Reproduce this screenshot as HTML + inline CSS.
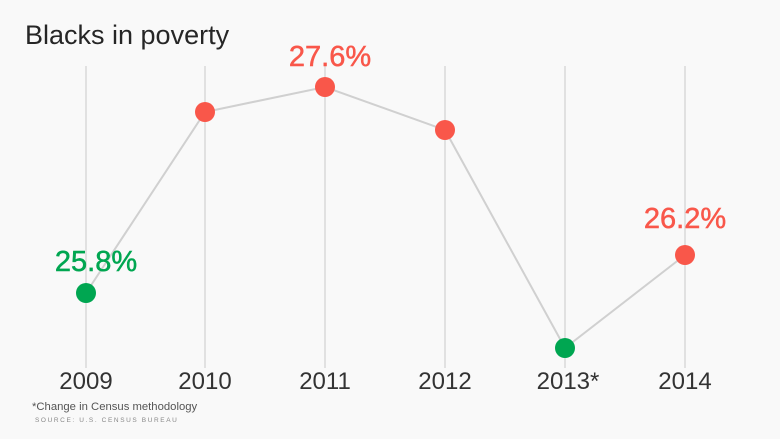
<!DOCTYPE html>
<html><head><style>
body{margin:0;background:#f9f9f9;}
svg{display:block;font-family:"Liberation Sans",sans-serif;}
</style></head><body>
<svg width="780" height="439" viewBox="0 0 780 439">
<rect width="780" height="439" fill="#f9f9f9"/>
<text x="25" y="44" font-size="27" fill="#262626">Blacks in poverty</text>
<g stroke="#d4d4d4" stroke-width="1.3">
<line x1="86" y1="66" x2="86" y2="368"/>
<line x1="205" y1="66" x2="205" y2="368"/>
<line x1="325" y1="66" x2="325" y2="368"/>
<line x1="445" y1="66" x2="445" y2="368"/>
<line x1="565" y1="66" x2="565" y2="368"/>
<line x1="685" y1="66" x2="685" y2="368"/>
</g>
<polyline points="86,293 205,112 325,87 445,130 565,348 685,255" fill="none" stroke="#d0d0d0" stroke-width="2"/>
<circle cx="86" cy="293" r="10" fill="#00a651"/>
<circle cx="205" cy="112" r="10" fill="#f9574a"/>
<circle cx="325" cy="87" r="10" fill="#f9574a"/>
<circle cx="445" cy="130" r="10" fill="#f9574a"/>
<circle cx="565" cy="348" r="10" fill="#00a651"/>
<circle cx="685" cy="255" r="10" fill="#f9574a"/>
<g font-size="29" stroke-width="0.5">
<text x="96" y="271" fill="#00a651" stroke="#00a651" text-anchor="middle">25.8%</text>
<text x="330" y="66" fill="#f9574a" stroke="#f9574a" text-anchor="middle">27.6%</text>
<text x="685" y="228" fill="#f9574a" stroke="#f9574a" text-anchor="middle">26.2%</text>
</g>
<g font-size="24" fill="#333" text-anchor="middle">
<text x="86" y="389">2009</text>
<text x="205" y="389">2010</text>
<text x="325" y="389">2011</text>
<text x="445" y="389">2012</text>
<text x="568" y="389">2013*</text>
<text x="685" y="389">2014</text>
</g>
<text x="32" y="410" font-size="11.3" fill="#555">*Change in Census methodology</text>
<text x="35" y="422" font-size="6.5" fill="#888" letter-spacing="1.6">SOURCE: U.S. CENSUS BUREAU</text>
</svg>
</body></html>
